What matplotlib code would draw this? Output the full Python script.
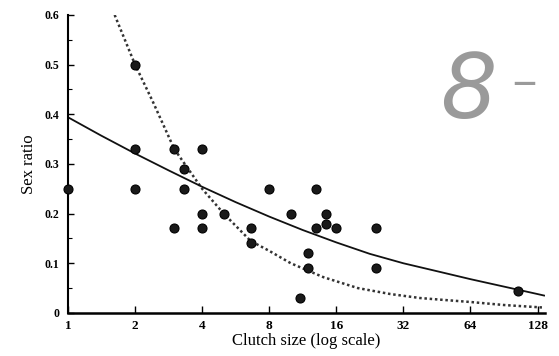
import matplotlib.pyplot as plt
from matplotlib.ticker import NullLocator, FixedLocator, MultipleLocator

#Observed broods
clutch = [1, 2, 2, 2, 3, 3.3, 3.3, 3, 4, 4, 4, 5, 6.6, 6.6, 8, 10, 13, 11,
          12, 12, 13, 14.4, 14.4, 16, 24, 24, 105]
sex_ratio = [0.25, 0.5, 0.33, 0.25, 0.33, 0.29, 0.25, 0.17, 0.33, 0.2, 0.17,
             0.2, 0.17, 0.14, 0.25, 0.2, 0.25, 0.03, 0.12, 0.09, 0.17, 0.2,
             0.18, 0.17, 0.17, 0.09, 0.045]

#Solid fitted curve
solid_x = [1, 1.41, 2, 2.83, 4, 5.66, 8, 11.3, 16, 22.6, 32, 45.3, 64, 90.5,
           128, 137]
solid_y = [0.394, 0.357, 0.321, 0.287, 0.254, 0.223, 0.194, 0.167, 0.142,
           0.119, 0.1, 0.084, 0.068, 0.053, 0.038, 0.035]

#Dotted prediction curve
dot_x = [1.62, 2, 2.4, 3, 4, 5, 6.6, 8, 10, 14, 20, 28, 38, 46, 64, 90, 134]
dot_y = [0.6, 0.5, 0.426, 0.33, 0.25, 0.2, 0.145, 0.125, 0.10, 0.072, 0.05,
         0.038, 0.03, 0.027, 0.022, 0.016, 0.011]

xticks = [1, 2, 4, 8, 16, 32, 64, 128]
yticks = [0, 0.1, 0.2, 0.3, 0.4, 0.5, 0.6]

plt.rcParams['font.family'] = ['Liberation Serif', 'DejaVu Serif']

fig = plt.figure(figsize=(5.59, 3.56), dpi=100)
ax = fig.add_axes([0.1216, 0.121, 0.853, 0.837])

ax.plot(dot_x, dot_y, color='#333333', lw=1.8, linestyle=(0, (1, 1.1)))
ax.plot(solid_x, solid_y, color='#111111', lw=1.3)
ax.scatter(clutch, sex_ratio, s=42, color='#1a1a1a', edgecolors='black',
           linewidths=0.8, zorder=3, clip_on=False)

ax.set_xscale('log')
ax.set_xlim(1, 138)
ax.set_ylim(0, 0.6)
ax.xaxis.set_major_locator(FixedLocator(xticks))
ax.xaxis.set_minor_locator(NullLocator())
ax.set_xticklabels([str(v) for v in xticks])
ax.yaxis.set_major_locator(FixedLocator(yticks))
ax.yaxis.set_minor_locator(MultipleLocator(0.05))
ax.set_yticklabels(['0', '0.1', '0.2', '0.3', '0.4', '0.5', '0.6'])

for s in ['top', 'right']:
    ax.spines[s].set_visible(False)
ax.spines['left'].set_linewidth(1.5)
ax.spines['bottom'].set_linewidth(1.8)

ax.tick_params(axis='y', which='major', direction='in', length=4, width=1,
               pad=6, labelsize=8.5)
ax.tick_params(axis='y', which='minor', direction='in', length=3, width=0.8)
ax.tick_params(axis='x', which='major', direction='in', length=5, width=1,
               pad=5, labelsize=9.5)
for lab in ax.get_xticklabels() + ax.get_yticklabels():
    lab.set_fontweight('bold')

ax.set_xlabel('Clutch size (log scale)', fontsize=12, labelpad=1)
ax.set_ylabel('Sex ratio', fontsize=12, labelpad=6)

#handwritten note in the corner of the scan
fig.text(0.787, 0.668, '8', fontsize=64, color='#9a9a9a', family='DejaVu Sans',
         style='italic', fontweight='light', va='baseline')
fig.text(0.912, 0.705, '-', fontsize=56, color='#9a9a9a', family='DejaVu Sans',
         fontweight='light', va='baseline')

fig.savefig('out.png', dpi=100)
